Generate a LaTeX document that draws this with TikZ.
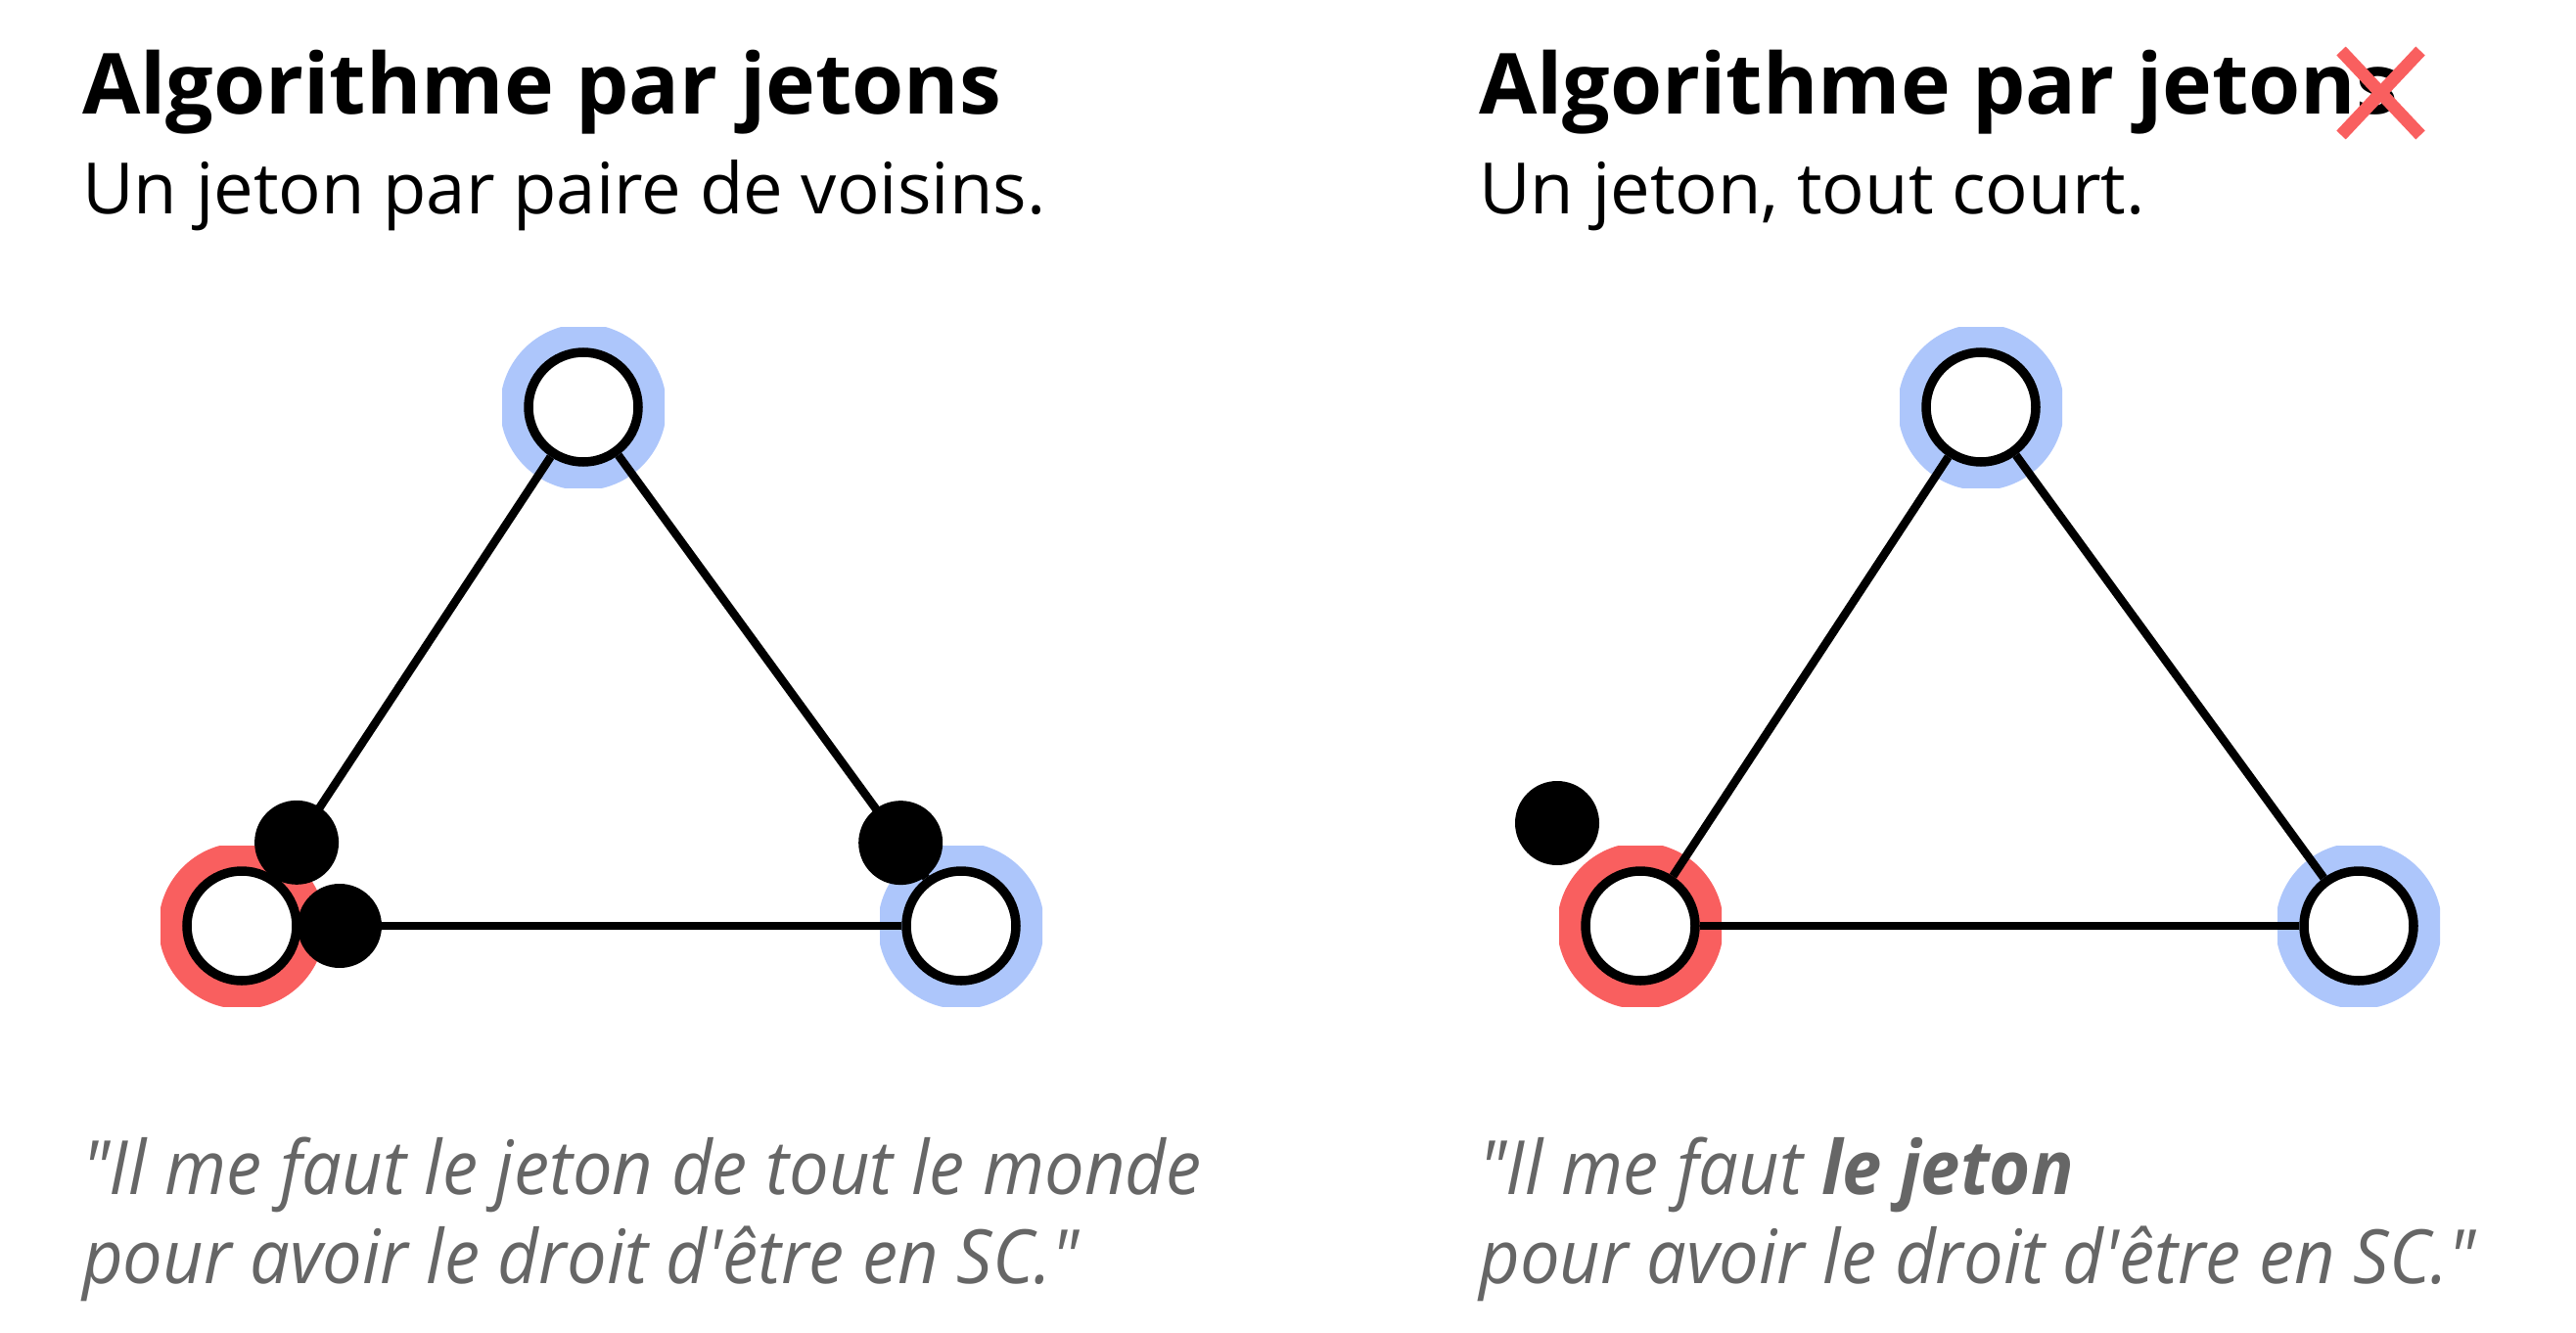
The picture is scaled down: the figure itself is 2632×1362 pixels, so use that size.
\documentclass[tikz,border=0pt]{standalone}
\usepackage{fontspec}
\setmainfont{Open Sans}[Ligatures=TeXOff]
\newfontfamily\quotefont{Open Sans}[Ligatures=TeXOff, FakeStretch=0.945]
\usetikzlibrary{calc}

\definecolor{haloRed}{HTML}{F95F5F}
\definecolor{haloBlue}{HTML}{ADC6FB}
\definecolor{quoteGray}{HTML}{666666}

\pgfdeclarelayer{halo}
\pgfdeclarelayer{edges}
\pgfsetlayers{halo,edges,main}

% coloured ring behind a process, trimmed to a square
\newcommand\drawHalo[2]{%
  \begin{pgfonlayer}{halo}
    \begin{scope}
      \clip ($(#1)+(-83,-82)$) rectangle ($(#1)+(83,82)$);
      \fill[#2] (#1) circle[radius=85];
    \end{scope}
  \end{pgfonlayer}}

\begin{document}
\begin{tikzpicture}[x=1pt,y=-1pt,
  proc/.style={circle, draw=black, fill=white, line width=9.5pt,
    minimum size=112pt, inner sep=0pt},
  token/.style={circle, fill=black, minimum size=86pt, inner sep=0pt},
  link/.style={line width=8.5pt},
  heading/.style={anchor=base west, inner sep=0pt,
    font=\bfseries\fontsize{86}{100}\selectfont},
  subheading/.style={anchor=base west, inner sep=0pt,
    font=\fontsize{72.4}{86}\selectfont},
  quote/.style={anchor=base west, inner sep=0pt, text=quoteGray,
    font=\quotefont\itshape\fontsize{76.5}{90}\selectfont},
  cross/.style={draw=haloRed, line width=13pt}]

\useasboundingbox (0,0) rectangle (2632,1362);

% ---------- left: one token per pair of neighbours ----------
\node[heading]    (title1) at (84,117) {Algorithme par jetons};
\node[subheading] (sub1)   at (84,218) {Un jeton par paire de voisins.};

\node[proc] (T1)  at (596,416) {};
\node[proc] (BL1) at (247,946) {};
\node[proc] (BR1) at (982,946) {};

\drawHalo{T1}{haloBlue}
\drawHalo{BL1}{haloRed}
\drawHalo{BR1}{haloBlue}

\begin{pgfonlayer}{edges}
  \draw[link] (T1) -- (BL1);
  \draw[link] (T1) -- (BR1);
  \draw[link] (BL1) -- (BR1);
\end{pgfonlayer}

\node[token] (k1) at ($(BL1.center)!102pt!(T1.center)$) {};
\node[token] (k2) at ($(BL1.center)!100pt!(BR1.center)$) {};
\node[token] (k3) at ($(BR1.center)!105pt!(T1.center)$) {};

\node[quote] (q1a) at (84,1220) {"Il me faut le jeton de tout le monde};
\node[quote] (q1b) at (84,1311) {pour avoir le droit d'être en SC."};

% ---------- right: a single token ----------
\node[heading]    (title2) at (1511,117) {Algorithme par jetons};
\node[subheading] (sub2)   at (1511,218) {Un jeton, tout court.};
\draw[cross] (2392,52) -- (2473,138);
\draw[cross] (2473,52) -- (2392,138);

\node[proc] (T2)  at (2024,416) {};
\node[proc] (BL2) at (1676,946) {};
\node[proc] (BR2) at (2410,946) {};

\drawHalo{T2}{haloBlue}
\drawHalo{BL2}{haloRed}
\drawHalo{BR2}{haloBlue}

\begin{pgfonlayer}{edges}
  \draw[link] (T2) -- (BL2);
  \draw[link] (T2) -- (BR2);
  \draw[link] (BL2) -- (BR2);
\end{pgfonlayer}

\node[token] (k4) at (1591,841) {};

\node[quote] (q2a) at (1511,1220) {"Il me faut \textbf{le jeton}};
\node[quote] (q2b) at (1511,1311) {pour avoir le droit d'être en SC."};

\end{tikzpicture}
\end{document}
